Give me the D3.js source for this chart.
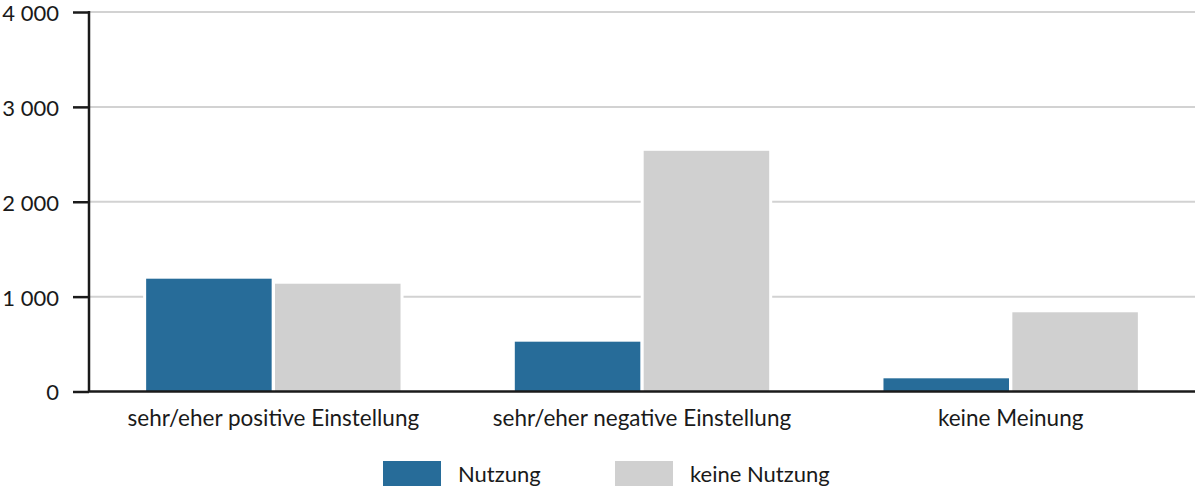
<!DOCTYPE html>
<html>
<head>
<meta charset="utf-8">
<script src="https://cdn.jsdelivr.net/npm/d3@7"></script>
<style>
  body { margin: 0; background: #fff; }
  text { font-family: Lato, "Open Sans", sans-serif; fill: #1a1a1a; }
</style>
</head>
<body>
<svg id="chart"></svg>
<script>
var width = 1195, height = 491;
var margin = {top: 12, right: 0, bottom: 100, left: 89};

var categories = ["sehr/eher positive Einstellung", "sehr/eher negative Einstellung", "keine Meinung"];
var seriesNames = ["Nutzung", "keine Nutzung"];
var nutzung = [1189, 525, 139];
var keineNutzung = [1136, 2537, 835];
var yTicks = [0, 1000, 2000, 3000, 4000];
var colors = ["#276c99", "#d0d0d0"];

var rows = categories.map(function (c, i) {
    return {cat: c, values: [nutzung[i], keineNutzung[i]]};
});

var svg = d3.select("#chart").attr("width", width).attr("height", height);

var x0 = d3.scaleBand()
    .domain(categories)
    .range([margin.left, width])
    .paddingInner(0.31)
    .paddingOuter(0.155);

var x1 = d3.scaleBand()
    .domain([0, 1])
    .range([0, x0.bandwidth()])
    .paddingInner(0.026);

var y = d3.scaleLinear()
    .domain([0, 4000])
    .range([391.5, margin.top]);

var fmt = function (d) { return d3.format(",")(d).replace(",", " "); };

// gridlines
svg.append("g").selectAll("line")
    .data(yTicks.slice(1))
    .join("line")
    .attr("x1", margin.left)
    .attr("x2", width)
    .attr("y1", function (d) { return y(d); })
    .attr("y2", function (d) { return y(d); })
    .attr("stroke", "#d2d2d2")
    .attr("stroke-width", 2);

// bars (white halo breaks the gridlines like the original)
var groups = svg.append("g").selectAll("g")
    .data(rows)
    .join("g")
    .attr("transform", function (d) { return "translate(" + x0(d.cat) + ",0)"; });

groups.selectAll("rect.halo")
    .data(function (d) { return d.values; })
    .join("rect")
    .attr("class", "halo")
    .attr("x", function (d, i) { return x1(i) - 3; })
    .attr("width", x1.bandwidth() + 6)
    .attr("y", function (d) { return y(d) - 3; })
    .attr("height", function (d) { return y(0) - y(d) + 3; })
    .attr("fill", "#fff");

groups.selectAll("rect.bar")
    .data(function (d) { return d.values; })
    .join("rect")
    .attr("class", "bar")
    .attr("x", function (d, i) { return x1(i); })
    .attr("width", x1.bandwidth())
    .attr("y", function (d) { return y(d); })
    .attr("height", function (d) { return y(0) - y(d); })
    .attr("fill", function (d, i) { return colors[i]; });

// y axis
var yAxis = svg.append("g")
    .attr("transform", "translate(" + margin.left + ",0)")
    .call(d3.axisLeft(y).tickValues(yTicks).tickFormat(fmt).tickSize(16).tickPadding(14));
yAxis.select(".domain").attr("stroke", "#1a1a1a").attr("stroke-width", 2.5).attr("d", "M0," + (y(4000) - 1) + "V" + y(0));
yAxis.selectAll(".tick line").attr("stroke", "#1a1a1a").attr("stroke-width", 2.5);
yAxis.selectAll(".tick text").style("font-size", "22px").attr("dy", "0.38em");

// x axis (baseline + category labels)
var xAxis = svg.append("g")
    .attr("transform", "translate(0," + y(0) + ")")
    .call(d3.axisBottom(x0).tickSize(0).tickPadding(19));
xAxis.select(".domain").attr("stroke", "#1a1a1a").attr("stroke-width", 2.5).attr("d", "M" + margin.left + ",0H" + width);
xAxis.selectAll(".tick text").style("font-size", "22.5px");

// legend
var legendX = [383, 615];
var legend = svg.append("g").selectAll("g")
    .data(seriesNames)
    .join("g")
    .attr("transform", function (d, i) { return "translate(" + legendX[i] + ",461)"; });
legend.append("rect")
    .attr("width", 58)
    .attr("height", 25)
    .attr("fill", function (d, i) { return colors[i]; });
legend.append("text")
    .attr("x", 75)
    .attr("y", 21)
    .style("font-size", "22px")
    .text(function (d) { return d; });
</script>
</body>
</html>
